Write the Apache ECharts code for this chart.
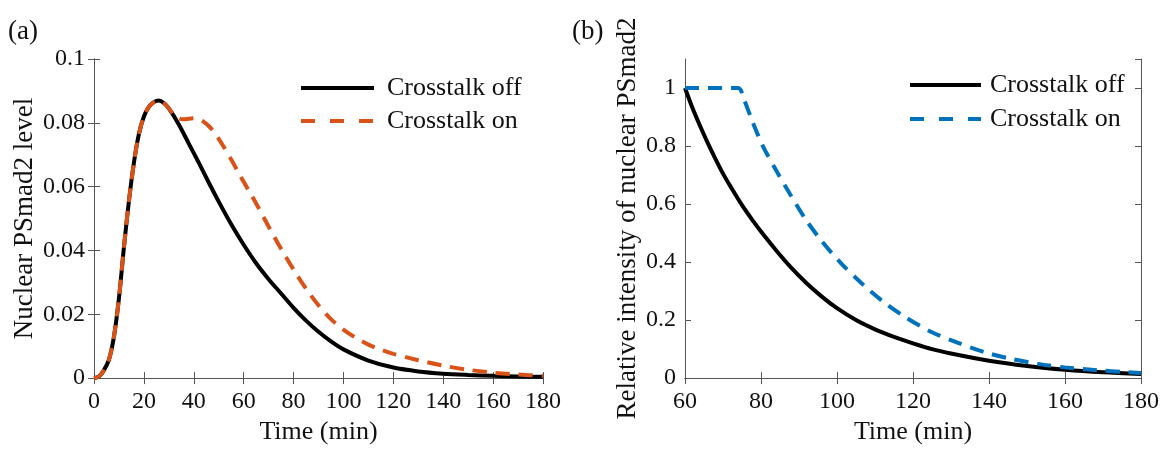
<!DOCTYPE html>
<html>
<head>
<meta charset="utf-8">
<script src="https://cdn.jsdelivr.net/npm/echarts@6.0.0/dist/echarts.min.js"></script>
<style>
  html, body { margin: 0; padding: 0; background: #fff; }
  #chart { width: 1166px; height: 450px; }
</style>
</head>
<body>
<div id="chart"></div>
<script>
// panel (a): nuclear PSmad2 level
var timeOffA = [0, 2, 4, 6, 8, 10, 12, 14, 16, 18, 20, 22, 24, 26, 28, 30, 34, 38, 42, 46, 50, 55, 60, 65, 70, 75, 80, 85, 90, 95, 100, 110, 120, 130, 140, 150, 160, 170, 180];
var offA = [0, 0.0005, 0.0025, 0.0058, 0.013, 0.025, 0.041, 0.0555, 0.0675, 0.0765, 0.082, 0.085, 0.0865, 0.087, 0.0862, 0.0845, 0.0795, 0.0735, 0.0675, 0.0613, 0.0553, 0.0482, 0.0418, 0.036, 0.031, 0.0265, 0.022, 0.018, 0.0145, 0.0115, 0.009, 0.0055, 0.0033, 0.0021, 0.0014, 0.001, 0.0007, 0.0005, 0.0004];
var timeOnA = [0, 2, 4, 6, 8, 10, 12, 14, 16, 18, 20, 22, 24, 26, 28, 30, 32, 34, 36, 38, 40, 42, 44, 46, 48, 50, 52, 55, 58, 60, 63, 66, 70, 75, 80, 85, 90, 95, 100, 105, 110, 115, 120, 130, 140, 150, 160, 170, 180];
var onA = [0, 0.0005, 0.0025, 0.0058, 0.013, 0.025, 0.041, 0.0555, 0.0675, 0.0765, 0.082, 0.085, 0.0865, 0.087, 0.0862, 0.0845, 0.0825, 0.0814, 0.0811, 0.0813, 0.0814, 0.0811, 0.0803, 0.079, 0.0772, 0.075, 0.0725, 0.0685, 0.0643, 0.0615, 0.0575, 0.0533, 0.0475, 0.0405, 0.034, 0.028, 0.0228, 0.0185, 0.0152, 0.0126, 0.0105, 0.0089, 0.0076, 0.0056, 0.0039, 0.0026, 0.0017, 0.0011, 0.0007];

// panel (b): relative intensity
var timeOffB = [60, 62, 64, 66, 68, 70, 72, 75, 78, 80, 84, 88, 92, 96, 100, 105, 110, 115, 120, 125, 130, 140, 150, 160, 170, 180];
var offB = [1, 0.93, 0.868, 0.81, 0.756, 0.705, 0.66, 0.596, 0.54, 0.505, 0.44, 0.38, 0.327, 0.281, 0.241, 0.2, 0.168, 0.142, 0.12, 0.1, 0.085, 0.06, 0.042, 0.029, 0.02, 0.014];
var timeOnB = [60, 74, 75.5, 77.8, 80.5, 84.2, 87.7, 91.7, 96, 100.9, 106.4, 112, 118, 124.7, 131.7, 138.7, 145.9, 152.9, 159.9, 168.6, 176, 180];
var onB = [1, 1, 0.961, 0.883, 0.8, 0.711, 0.633, 0.548, 0.472, 0.398, 0.328, 0.265, 0.21, 0.16, 0.122, 0.09, 0.066, 0.049, 0.037, 0.027, 0.021, 0.018];

var legendNames = { a_off: "Crosstalk off", a_on: "Crosstalk on", b_off: "Crosstalk off", b_on: "Crosstalk on" };

var serif = "Liberation Serif, Times New Roman, serif";
var axisColor = "#555";

function pairs(ts, vs) {
	return ts.map(function(t, i) { return [t, vs[i]]; });
}

function xAxes(idx, min) {
	return [{
		type: "value", gridIndex: idx, min: min, max: 180, interval: 20,
		name: "Time (min)", nameLocation: "middle", nameGap: 37,
		nameTextStyle: { fontFamily: serif, fontSize: 26, color: "#111" },
		axisLine: { lineStyle: { color: axisColor, width: 1 } },
		axisTick: { inside: true, length: 6, lineStyle: { color: axisColor } },
		axisLabel: { fontFamily: serif, fontSize: 24, color: "#111", margin: 12 },
		splitLine: { show: false }
	}, {
		type: "value", gridIndex: idx, position: "top", min: min, max: 180, interval: 20,
		axisLine: { show: true, lineStyle: { color: axisColor, width: 1 } },
		axisTick: { inside: true, length: 6, lineStyle: { color: axisColor } },
		axisLabel: { show: false },
		splitLine: { show: false }
	}];
}

function yAxes(idx, max, interval, name, gap, nameSize) {
	return [{
		type: "value", gridIndex: idx, min: 0, max: max, interval: interval,
		name: name, nameLocation: "middle", nameGap: gap,
		nameTextStyle: { fontFamily: serif, fontSize: nameSize, color: "#111" },
		axisLine: { show: true, lineStyle: { color: axisColor, width: 1 } },
		axisTick: { show: true, inside: true, length: 6, lineStyle: { color: axisColor } },
		axisLabel: { fontFamily: serif, fontSize: 24, color: "#111", margin: 9, showMaxLabel: max === 0.1 },
		splitLine: { show: false }
	}, {
		type: "value", gridIndex: idx, position: "right", min: 0, max: max, interval: interval,
		axisLine: { show: true, lineStyle: { color: axisColor, width: 1 } },
		axisTick: { show: true, inside: true, length: 6, lineStyle: { color: axisColor } },
		axisLabel: { show: false },
		splitLine: { show: false }
	}];
}

function lineSeries(name, xi, yi, data, color, dashed) {
	return {
		name: name, type: "line", xAxisIndex: xi, yAxisIndex: yi,
		data: data, smooth: 0.3, symbol: "none", showSymbol: false,
		lineStyle: { color: color, width: 4, type: dashed ? [14, 9] : "solid" },
		itemStyle: { color: color },
		z: dashed ? 3 : 2
	};
}

function legendItems(offName, onName, color) {
	return [
		{ name: offName, lineStyle: { width: 4, color: "#000", type: "solid" } },
		{ name: onName, lineStyle: { width: 4, color: color, type: [14, 15] } }
	];
}

var chart = echarts.init(document.getElementById("chart"), null, { renderer: "canvas" });

var option = {
	animation: false,
	backgroundColor: "#fff",
	grid: [
		{ left: 94, top: 59, width: 449, height: 329 },
		{ left: 685, top: 59, width: 456, height: 328 }
	],
	xAxis: xAxes(0, 0).concat(xAxes(1, 60)),
	yAxis: yAxes(0, 0.1, 0.02, "Nuclear PSmad2 level", 56, 27).concat(yAxes(1, 1.1, 0.2, "Relative intensity of nuclear PSmad2", 44, 27)),
	legend: [{
		data: legendItems("a_off", "a_on", "#D95319"),
		orient: "vertical", left: 299, top: 75, padding: 0,
		itemWidth: 73, itemHeight: 26, itemGap: 7,
		itemStyle: { opacity: 0 },
		formatter: function(n) { return legendNames[n]; },
		textStyle: { fontFamily: serif, fontSize: 26, color: "#111", padding: [0, 0, 0, 8] }
	}, {
		data: legendItems("b_off", "b_on", "#0072BD"),
		orient: "vertical", left: 908, top: 72, padding: 0,
		itemWidth: 71, itemHeight: 26, itemGap: 8,
		itemStyle: { opacity: 0 },
		formatter: function(n) { return legendNames[n]; },
		textStyle: { fontFamily: serif, fontSize: 26, color: "#111", padding: [0, 0, 0, 4] }
	}],
	graphic: [
		{ type: "text", left: 8, top: 18, style: { text: "(a)", font: "27px " + serif, fill: "#111" } },
		{ type: "text", left: 572, top: 18, style: { text: "(b)", font: "27px " + serif, fill: "#111" } }
	],
	series: [
		lineSeries("a_off", 0, 0, pairs(timeOffA, offA), "#000", false),
		lineSeries("a_on", 0, 0, pairs(timeOnA, onA), "#D95319", true),
		lineSeries("b_off", 2, 2, pairs(timeOffB, offB), "#000", false),
		lineSeries("b_on", 2, 2, pairs(timeOnB, onB), "#0072BD", true)
	]
};
chart.setOption(option);
</script>
</body>
</html>
